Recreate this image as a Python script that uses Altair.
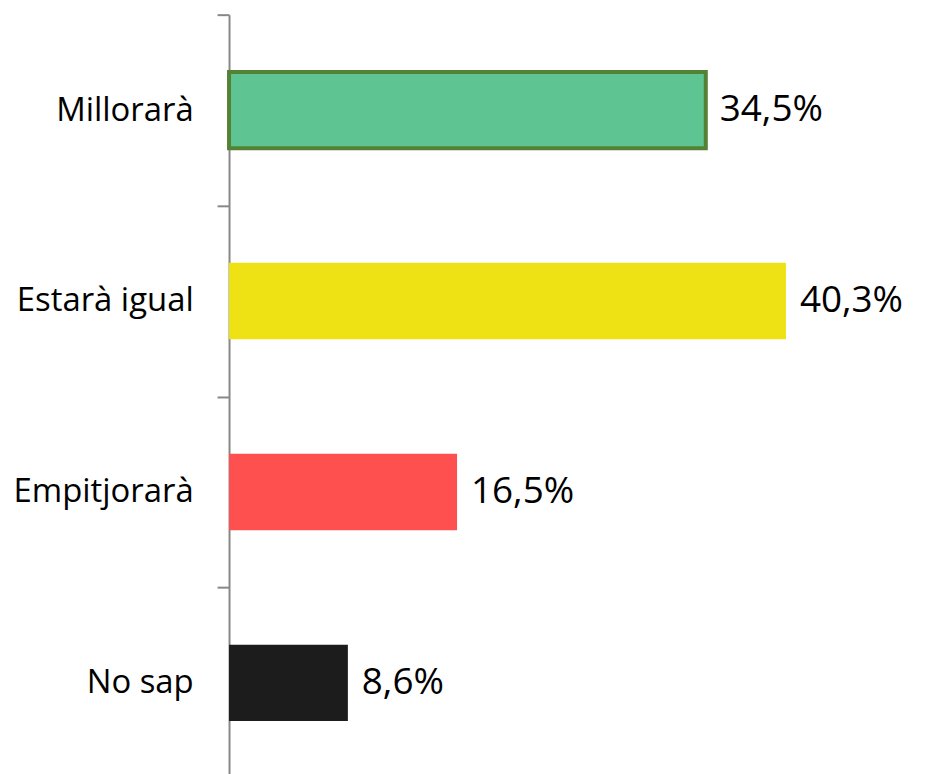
import altair as alt
import pandas as pd

categories = ["Millorarà", "Estarà igual", "Empitjorarà", "No sap"]
values = [34.5, 40.3, 16.5, 8.6]
fills = ["#5EC492", "#EEE214", "#FF5050", "#1C1C1C"]
strokes = ["#548235", "#EEE214", "#FF5050", "#1C1C1C"]
stroke_widths = [4, 0, 0, 0]

df = pd.DataFrame({
    "cat": categories,
    "val": values,
    "sw": stroke_widths,
    "label": [f"{v:.1f}".replace(".", ",") + "%" for v in values],
})

x = alt.X("val:Q", scale=alt.Scale(domain=[0, 50]), axis=None)
y = alt.Y(
    "cat:N",
    sort=categories,
    scale=alt.Scale(paddingInner=0, paddingOuter=0),
    axis=alt.Axis(
        title=None,
        domainColor="#888888",
        domainWidth=2,
        tickColor="#888888",
        tickWidth=2,
        tickSize=12,
        tickBand="extent",
        labelPadding=24,
        labelFont="Open Sans",
        labelFontSize=33,
        labelColor="#000000",
        labelLimit=400,
    ),
)

bars = alt.Chart(df).mark_bar(height={"band": 0.4}).encode(
    x=x,
    y=y,
    color=alt.Color("cat:N", scale=alt.Scale(domain=categories, range=fills), legend=None),
    stroke=alt.Stroke("cat:N", scale=alt.Scale(domain=categories, range=strokes), legend=None),
    strokeWidth=alt.StrokeWidth("sw:Q", scale=None),
)

text = alt.Chart(df).mark_text(
    align="left", baseline="middle", dx=14, font="Open Sans", fontSize=37, color="#000000"
).encode(x=x, y=alt.Y("cat:N", sort=categories), text="label:N")

chart = (bars + text).properties(
    width=694,
    height=767,
    autosize=alt.AutoSizeParams(type="none"),
    padding={"left": 222, "top": 5, "right": 0, "bottom": 0},
    background="#ffffff",
).configure_view(stroke=None)

chart.save("out.html", embed_options={"renderer": "svg", "actions": False})
